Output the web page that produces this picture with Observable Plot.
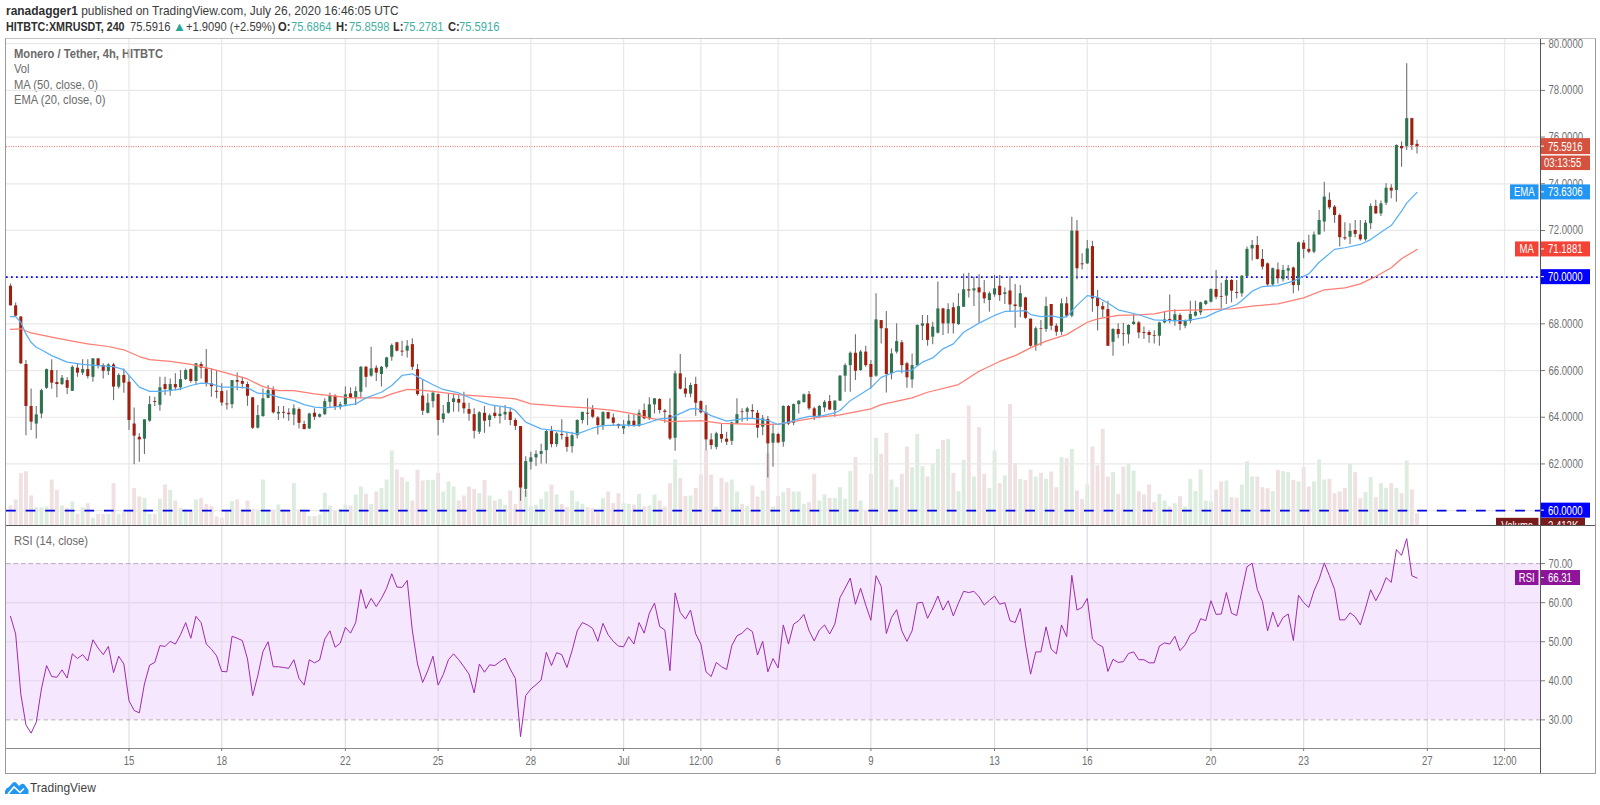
<!DOCTYPE html>
<html><head><meta charset="utf-8">
<script src="https://cdn.jsdelivr.net/npm/d3@7"></script>
<script src="https://cdn.jsdelivr.net/npm/@observablehq/plot@0.6"></script>
<style>
html,body{margin:0;padding:0;background:#fff;width:1600px;height:805px;overflow:hidden}
body{font-family:"Liberation Sans",sans-serif;color:#4a4a4a}
#stage{position:relative;width:1600px;height:805px;overflow:hidden}
#stage svg.plot-layer{position:absolute;left:0;background:transparent;overflow:hidden}
#frame{position:absolute;left:5px;top:38px;width:1589px;height:734px;border:1.5px solid #9a9a9a;border-top-color:#c2c2c2;box-sizing:content-box}
#axisline{position:absolute;left:1539.5px;top:39px;width:1px;height:734px;background:#555}
#panesep{position:absolute;left:6px;top:525px;width:1589px;height:1px;background:#555}
.t{position:absolute;white-space:nowrap;transform-origin:0 50%;line-height:14px}
.h{font-size:13px;color:#3c3c3c;transform:scaleX(.92)}
.h2{font-size:13px;color:#3c3c3c;top:20px;transform:scaleX(.86)}
.h b,.h2 b{color:#2f2f2f}
.tv{color:#3fb0a2}
.lg{font-size:12.5px;color:#6a6a6a;transform:scaleX(.895)}
</style></head><body><div id="stage">
<div id="frame"></div>
<div class="t h" style="left:6px;top:4px"><b>ranadagger1</b> published on TradingView.com, July 26, 2020 16:46:05 UTC</div>
<div class="t h2" style="left:6px;transform:scaleX(.825)"><b>HITBTC:XMRUSDT, 240</b></div>
<div class="t h2" style="left:130px">75.5916</div>
<div class="t h2" style="left:173px;color:#26a69a;transform:none;font-size:13px">▲</div>
<div class="t h2" style="left:186px">+1.9090 (+2.59%)</div>
<div class="t h2" style="left:278px"><b>O:</b></div><div class="t h2 tv" style="left:291px">75.6864</div>
<div class="t h2" style="left:336px"><b>H:</b></div><div class="t h2 tv" style="left:348.5px">75.8598</div>
<div class="t h2" style="left:393px"><b>L:</b></div><div class="t h2 tv" style="left:403px">75.2781</div>
<div class="t h2" style="left:448px"><b>C:</b></div><div class="t h2 tv" style="left:458.5px">75.5916</div>
<div class="t lg" style="left:13.5px;top:47px;font-weight:bold">Monero / Tether, 4h, HITBTC</div>
<div class="t lg" style="left:13.5px;top:62px">Vol</div>
<div class="t lg" style="left:13.5px;top:77.5px">MA (50, close, 0)</div>
<div class="t lg" style="left:13.5px;top:93px">EMA (20, close, 0)</div>
<div class="t lg" style="left:13.5px;top:534px">RSI (14, close)</div>
<svg style="position:absolute;left:5px;top:781px" width="24" height="14" viewBox="0 0 24 14"><path d="M0 13 L0 10 Q1 7 4 6 L8 1.5 Q9.5 0.5 11 1.5 L14 5 L16.5 3 Q18 2.2 19.5 3.5 L23.5 9 L23.5 13 Z" fill="#2196f3"/><path d="M3 13 L9 6 L15 11.5 L19 7.5" fill="none" stroke="#fff" stroke-width="1.6"/></svg>
<div class="t" style="left:30px;top:781px;font-size:13px;color:#3f3f3f;transform:scaleX(.92)">TradingView</div>
</div>
<script>
const startUTC = Date.UTC(2020, 5, 11, 4);
const barMs = 4 * 3600e3;
const open = [
69.61,68.77,68.29,66.26,64.46,63.71,64.14,65.24,66.0,65.49,
65.4,65.57,65.11,66.1,65.89,66.04,65.71,66.5,66.21,65.96,
66.24,65.29,65.79,65.5,63.71,63.14,63.06,63.83,64.67,64.51,
65.4,65.14,65.4,65.26,65.61,66.04,65.53,66.26,66.07,65.43,
65.11,65.1,64.57,64.54,65.57,65.53,65.4,64.83,63.53,64.03,
64.81,65.17,64.14,64.21,64.17,64.09,64.33,63.69,63.5,64.17,
64.0,64.11,64.64,64.9,64.41,64.53,65.0,64.81,65.07,66.14,
65.76,66.1,65.83,66.14,66.57,67.19,66.83,66.83,67.11,66.04,
64.91,64.17,64.67,64.97,63.9,64.17,64.63,64.76,64.6,64.33,
64.11,63.36,64.17,63.86,64.17,64.03,64.1,64.21,63.86,63.6,
60.91,62.07,62.26,62.41,62.57,63.39,62.83,63.26,63.14,62.74,
63.21,63.86,64.17,64.31,63.97,63.61,64.2,63.97,63.69,63.5,
63.66,63.83,63.61,64.29,63.93,64.53,64.76,64.26,64.07,63.1,
65.86,65.21,64.99,65.4,64.67,64.19,63.03,62.71,63.26,63.06,
62.97,63.71,64.23,64.21,64.29,64.17,63.57,63.9,62.89,63.26,
62.93,64.46,63.74,64.54,64.63,64.97,64.36,64.04,64.4,64.67,
64.29,64.69,65.76,66.21,66.74,66.0,66.79,66.26,65.76,68.14,
67.79,65.86,66.79,67.19,66.29,65.6,66.21,67.9,68.0,67.43,
67.6,68.64,68.0,68.69,67.97,68.71,69.46,69.41,69.54,69.33,
69.0,69.24,69.61,69.26,69.41,68.81,68.71,69.11,68.2,67.04,
67.8,67.76,68.83,67.9,67.64,68.86,68.33,71.97,70.57,70.57,
71.31,69.11,68.74,68.61,67.21,67.76,67.57,67.53,67.97,68.04,
67.63,67.63,67.5,67.47,68.04,68.19,68.09,68.36,67.9,68.11,
68.33,68.47,68.83,68.93,69.47,69.17,69.19,69.86,69.34,69.29,
70.03,71.21,71.36,70.76,70.57,69.67,70.31,69.89,70.26,70.39,
69.64,71.46,71.19,71.07,71.81,72.36,73.29,73.0,72.64,71.69,
71.71,72.0,71.81,71.6,72.29,73.03,72.71,73.17,73.81,73.71,
75.6,75.6,76.79,75.69];
const close = [
68.77,68.33,66.29,64.46,63.79,64.1,65.14,66.04,65.46,65.4,
65.67,65.24,66.14,65.89,66.04,65.74,66.5,66.19,65.97,66.24,
65.29,65.79,65.46,63.86,63.19,63.03,63.89,64.54,64.63,65.26,
65.19,65.4,65.26,65.61,66.0,65.53,66.29,66.1,65.46,65.31,
65.07,64.61,64.53,65.57,65.5,65.41,64.9,63.53,64.07,64.79,
65.14,64.19,64.21,64.17,64.11,64.36,63.74,63.47,64.14,64.0,
64.11,64.67,64.9,64.43,64.53,64.96,64.81,65.1,66.14,65.71,
66.07,65.89,66.14,66.54,67.07,66.83,66.79,67.04,66.14,64.97,
64.26,64.6,65.03,63.86,64.14,64.63,64.79,64.6,64.36,64.13,
63.4,64.19,63.83,64.06,64.03,64.13,64.21,63.86,63.61,60.97,
62.1,62.26,62.41,62.53,63.39,62.83,63.29,63.21,62.71,63.21,
63.86,64.21,64.13,64.0,63.64,64.2,63.93,63.74,63.6,63.61,
63.83,63.61,64.17,63.93,64.53,64.79,64.29,64.2,63.07,65.86,
65.2,64.99,65.36,64.6,64.19,63.03,62.79,63.29,63.06,62.93,
63.76,64.11,64.2,64.36,64.23,63.53,63.93,62.86,63.29,62.9,
64.46,63.71,64.54,64.69,64.96,64.36,64.0,64.46,64.64,64.31,
64.69,65.76,66.21,66.74,65.97,66.79,66.21,65.71,68.17,67.79,
65.83,66.71,67.24,66.21,65.69,66.21,67.93,68.0,67.29,67.86,
68.64,68.0,68.61,68.0,68.74,69.46,69.41,69.5,69.33,69.07,
69.29,69.5,69.21,69.33,68.81,68.74,69.29,68.24,67.04,67.79,
67.77,68.74,67.9,67.64,68.86,68.33,71.97,70.36,70.53,71.21,
69.07,68.74,68.6,67.04,67.76,67.54,67.54,67.93,68.07,67.61,
67.59,67.5,67.47,68.04,68.17,68.11,68.39,67.97,68.11,68.4,
68.5,68.9,68.97,69.47,69.14,69.14,69.86,69.4,69.3,70.04,
71.19,71.36,70.76,70.43,69.67,70.36,69.93,70.29,70.36,69.64,
71.47,71.19,71.07,71.81,72.43,73.43,72.97,72.64,71.69,71.64,
71.96,71.83,71.6,72.31,73.03,72.71,73.14,73.81,73.69,75.64,
75.5,76.79,75.64,75.5916];
const high = [
69.71,68.89,68.31,66.43,65.21,64.46,65.2,66.07,66.46,66.0,
65.79,65.7,66.21,66.26,66.46,66.46,66.5,66.5,66.29,66.29,
66.31,65.86,66.07,65.79,64.4,63.29,63.89,64.89,64.86,65.71,
65.71,65.64,65.86,66.0,66.07,66.07,66.29,66.36,66.9,66.07,
66.0,65.43,65.14,65.57,65.89,65.71,65.5,64.86,64.5,65.21,
65.36,65.29,64.46,64.46,64.36,64.54,64.4,63.83,64.17,64.36,
64.14,64.79,65.03,64.96,64.64,65.29,65.26,65.29,66.17,66.17,
67.0,66.21,66.17,66.57,67.14,67.21,67.26,67.29,67.36,66.26,
65.57,65.0,65.11,65.0,64.5,65.0,65.0,64.97,65.07,64.6,
64.36,64.24,64.46,64.14,64.5,64.43,64.5,64.4,63.93,63.6,
62.31,62.5,62.57,62.84,63.43,63.6,63.36,63.89,63.36,63.36,
63.89,64.21,64.79,64.5,64.03,64.24,64.21,64.14,63.71,63.86,
64.11,64.11,64.31,64.57,64.83,64.79,64.79,64.33,64.79,65.97,
66.69,65.69,65.46,65.71,64.71,64.5,63.29,63.36,63.71,63.36,
63.79,64.79,64.36,64.43,64.54,64.29,64.07,64.03,63.71,63.31,
64.49,64.5,64.57,64.71,65.0,65.1,64.43,64.5,64.71,64.93,
64.71,65.79,66.29,66.79,67.53,66.86,67.04,66.43,69.29,68.14,
68.53,66.93,68.0,67.29,66.36,66.71,67.96,68.36,68.36,68.07,
69.79,68.67,68.86,68.89,69.29,70.14,70.17,70.0,70.1,69.86,
69.36,70.07,70.07,69.54,70.03,69.69,69.64,69.14,68.21,67.86,
68.14,69.14,68.83,68.0,69.07,69.14,72.57,72.43,71.0,71.57,
71.54,69.43,68.93,68.97,67.79,68.0,68.03,67.96,68.39,68.1,
67.86,67.71,67.71,68.07,68.5,69.24,68.6,68.43,68.17,68.97,
68.97,68.93,69.0,69.5,70.29,69.74,69.93,69.89,69.86,70.07,
71.29,71.57,71.74,71.19,70.61,70.39,70.61,70.5,70.5,70.43,
71.5,71.57,71.79,71.93,72.86,74.07,73.6,73.07,72.71,72.33,
72.29,72.43,72.43,72.43,73.14,73.29,73.26,74.0,73.96,75.67,
75.79,79.14,76.81,75.8598];
const low = [
68.77,68.29,66.26,63.21,63.43,63.07,63.93,65.2,65.2,64.83,
65.36,64.97,65.11,65.71,65.79,65.64,65.5,66.07,65.64,65.79,
64.71,65.21,65.03,63.43,61.96,62.07,62.4,63.79,64.46,64.26,
64.93,64.9,65.14,65.14,65.57,65.46,65.36,65.64,65.29,64.86,
64.79,64.47,64.31,64.36,65.14,65.21,64.47,63.47,63.5,64.0,
64.79,64.14,63.86,63.93,63.83,63.64,63.5,63.46,63.47,63.86,
63.97,64.07,64.4,64.29,64.31,64.5,64.79,64.5,64.79,65.26,
65.71,65.53,65.29,66.07,66.4,66.79,66.6,66.54,66.0,64.9,
64.07,64.14,64.4,63.21,63.74,64.14,64.21,64.21,64.14,63.83,
63.07,63.26,63.31,63.57,63.93,63.71,63.86,63.64,63.43,60.4,
60.57,61.74,61.89,62.0,62.0,62.69,62.71,63.03,62.5,62.46,
63.07,63.71,63.64,63.93,63.24,63.43,63.89,63.64,63.5,63.26,
63.57,63.57,63.57,63.89,63.86,64.14,64.14,63.74,63.0,62.54,
65.17,64.83,64.83,64.04,64.14,62.57,62.61,62.61,62.89,62.79,
62.79,63.69,63.79,63.83,63.93,63.1,63.21,61.4,61.86,62.86,
62.71,63.64,63.64,64.14,64.6,64.29,63.86,63.93,64.21,64.29,
64.0,64.69,65.07,65.07,65.57,65.97,66.14,65.21,65.71,67.14,
65.04,65.6,66.71,65.86,65.24,65.24,66.17,67.29,67.04,67.11,
67.57,67.5,67.57,67.57,67.93,68.71,69.11,68.74,68.04,68.86,
68.5,69.14,68.97,68.83,68.5,67.81,68.26,68.19,67.0,66.83,
67.04,67.64,67.71,67.47,67.5,68.26,68.26,69.89,70.31,70.54,
68.5,67.69,68.26,67.03,66.61,67.36,67.04,67.14,67.93,67.36,
67.33,67.17,67.14,67.04,68.0,68.0,67.9,67.71,67.79,68.0,
68.29,68.36,68.79,68.89,69.03,68.64,68.83,68.9,69.07,69.14,
70.0,70.69,70.74,70.31,69.6,69.6,69.71,69.79,69.86,69.29,
69.4,70.79,71.0,71.0,71.79,71.93,72.89,72.31,71.29,71.57,
71.4,71.69,71.54,71.54,72.04,72.69,72.6,73.07,73.36,73.21,
74.71,75.43,75.43,75.2781];
const volumeK = [
3.87,5.0,9.97,10.35,5.75,3.55,3.55,3.68,8.77,6.82,
3.87,3.43,4.62,2.3,3.55,4.31,1.54,2.3,2.3,2.3,
8.08,2.3,2.61,3.05,7.2,5.57,5.31,2.3,2.3,5.13,
7.83,6.82,4.81,3.43,3.11,2.92,5.0,5.31,4.18,3.74,
1.79,1.54,2.92,4.69,5.0,3.24,4.81,3.24,3.11,8.77,
2.92,3.11,4.06,3.11,2.92,8.14,3.11,2.92,1.86,1.86,
2.17,6.26,3.87,2.92,3.24,4.06,3.87,5.94,7.45,6.07,
4.18,6.51,7.2,8.77,14.25,10.66,9.21,8.4,4.81,10.6,
8.58,8.71,8.71,10.03,6.51,8.4,7.45,4.81,5.75,7.45,
7.01,6.19,8.71,5.75,4.81,5.13,3.99,6.7,4.18,8.46,
6.7,3.74,3.99,5.13,6.51,7.83,5.94,4.18,3.55,6.7,
4.62,4.18,3.55,3.36,2.61,5.25,6.51,4.37,6.19,4.31,
4.18,4.06,6.07,3.68,3.87,5.94,4.81,3.68,8.08,12.55,
9.03,5.63,5.75,7.2,9.72,14.43,9.72,3.68,9.09,8.27,
8.77,6.51,4.18,3.74,7.64,5.57,6.7,13.74,3.68,5.63,
6.38,7.2,6.51,6.51,4.18,4.5,9.84,4.81,5.94,5.31,
5.31,7.33,5.13,10.35,12.99,4.81,2.92,9.84,16.64,13.62,
17.58,8.77,7.33,9.84,15.0,11.1,17.39,11.29,9.34,11.73,
14.56,16.26,16.45,10.03,6.57,12.48,22.74,9.34,18.65,9.84,
7.2,14.25,8.08,9.53,23.05,11.86,8.9,8.71,10.66,9.34,
10.03,8.9,10.28,7.33,12.99,12.8,14.56,6.7,5.13,7.83,
15.0,11.42,18.33,9.34,10.16,6.07,11.23,11.86,10.47,6.57,
5.94,7.83,4.5,6.07,4.81,3.68,4.31,5.63,3.68,8.9,
6.6,10.66,4.81,4.62,6.89,8.4,8.58,5.44,5.31,7.83,
12.23,9.34,9.34,7.33,7.14,6.57,10.6,10.35,10.16,8.71,
8.4,11.1,7.45,8.4,12.55,8.77,8.9,6.19,6.51,7.2,
11.73,10.16,5.25,6.38,9.21,5.44,8.08,7.2,8.08,7.2,
6.19,12.36,6.89,2.412];
const rsi = [
56.5,52.0,36.6,28.7,26.6,29.4,37.9,43.9,41.1,40.9,
42.8,40.7,46.9,45.7,46.7,45.1,50.5,48.4,46.7,48.8,
42.1,46.3,44.3,34.9,32.4,31.8,39.2,44.0,44.7,49.0,
48.8,50.1,49.4,51.8,54.9,50.9,56.5,54.9,49.4,48.1,
46.4,42.4,42.3,51.4,50.9,50.3,45.6,36.2,41.3,47.5,
50.0,43.6,43.6,43.4,43.2,45.4,40.6,38.9,45.4,44.6,
45.3,50.7,52.8,48.6,49.6,53.7,52.2,54.9,63.4,58.5,
61.1,59.0,61.1,63.7,67.4,64.0,63.9,65.7,52.8,44.3,
39.6,42.6,46.3,38.9,41.6,45.4,46.9,45.4,43.6,41.7,
36.9,44.3,42.2,44.1,43.9,44.9,45.8,43.0,40.6,25.7,
36.2,37.9,39.0,40.2,47.3,43.9,47.2,46.7,43.4,47.7,
52.8,54.9,54.3,53.4,50.1,54.7,51.8,50.1,48.9,48.7,
51.3,49.4,54.9,52.2,57.3,59.9,53.9,53.0,42.6,62.5,
57.5,55.8,58.1,52.0,49.4,42.3,41.1,44.7,43.6,42.9,
49.0,51.5,52.2,53.5,52.6,46.6,50.1,42.3,45.7,43.3,
54.3,49.4,54.5,55.4,57.0,52.8,50.2,53.0,54.3,52.0,
54.5,61.3,63.7,66.3,59.6,63.7,59.4,55.5,66.9,64.2,
52.1,56.2,58.2,52.8,50.1,52.8,59.9,60.1,56.0,58.6,
61.7,58.1,60.5,56.6,59.9,62.9,62.6,62.9,61.5,59.4,
60.6,61.7,59.6,60.0,55.4,54.9,58.5,49.4,41.7,47.4,
47.4,53.8,48.1,46.9,54.3,51.3,67.0,58.1,58.8,61.1,
50.7,49.4,48.7,42.4,45.5,44.7,44.9,47.0,47.4,45.4,
45.4,44.6,44.6,48.9,49.7,49.4,51.4,47.7,49.2,51.8,
52.6,55.9,55.4,60.5,57.0,57.1,62.6,57.3,56.7,63.0,
69.2,70.1,63.4,60.3,52.8,57.6,53.8,56.2,57.1,50.3,
61.9,60.0,58.8,63.0,66.0,70.2,66.9,63.4,55.6,55.6,
57.4,56.4,54.3,58.6,63.3,60.5,63.0,66.4,65.2,73.6,
72.1,76.4,66.9,66.31];
const emaBars = [0,1,2,3,4,5,6,8,11,14,17,20,22,23,25,27,29,31,33,35,37,39,41,44,46,48,50,52,55,57,59,61,64,67,69,72,74,76,78,79,81,82,84,87,90,93,97,98,100,103,107,110,113,115,119,121,123,126,128,132,133,134,136,139,143,145,147,149,151,153,155,157,160,161,163,167,169,172,174,175,177,179,181,183,185,188,191,193,195,197,198,200,202,204,205,207,209,211,213,215,219,222,225,228,230,232,234,238,239,241,243,246,249,250,252,254,257,259,262,264,267,268,270,271,273];
const emaValues = [68.31,68.31,68.07,67.57,67.21,67.0,66.89,66.64,66.36,66.26,66.21,66.17,66.04,65.79,65.29,65.11,65.11,65.14,65.21,65.36,65.46,65.43,65.29,65.29,65.26,65.03,65.0,64.86,64.71,64.54,64.43,64.4,64.47,64.57,64.83,65.07,65.36,65.79,65.86,65.74,65.51,65.39,65.19,65.04,64.76,64.54,64.4,64.29,63.79,63.5,63.39,63.29,63.53,63.64,63.67,63.64,63.71,63.93,63.96,64.36,64.37,64.31,64.07,63.83,63.96,63.93,63.86,63.69,63.79,63.93,64.04,64.04,64.19,64.29,64.71,65.26,65.71,65.97,65.97,66.03,66.36,66.54,66.93,67.14,67.64,68.03,68.36,68.53,68.54,68.57,68.4,68.31,68.34,68.26,68.31,68.79,69.21,69.14,68.89,68.6,68.39,68.17,68.14,68.14,68.2,68.29,68.5,68.83,69.0,69.4,69.6,69.64,69.83,69.93,70.14,70.64,71.19,71.26,71.4,71.61,72.07,72.21,72.83,73.17,73.6306];
const maBars = [0,2,4,8,12,15,19,22,25,27,31,35,39,42,46,49,52,55,59,63,66,70,72,74,77,79,82,87,92,98,101,107,112,117,121,124,128,134,138,143,147,149,153,157,161,167,169,175,178,184,188,192,195,198,201,205,209,211,215,219,222,225,231,237,241,246,251,255,259,262,265,268,270,273];
const maValues = [67.76,67.79,67.61,67.43,67.26,67.14,67.03,66.89,66.6,66.47,66.39,66.26,66.07,65.89,65.64,65.31,65.14,65.14,65.0,64.9,64.83,64.83,64.83,65.0,65.19,65.17,65.11,64.97,64.89,64.79,64.57,64.47,64.4,64.29,64.14,63.96,63.81,63.86,63.74,63.71,63.69,63.71,63.86,64.0,64.1,64.36,64.54,64.83,65.07,65.4,65.97,66.39,66.64,66.97,67.26,67.54,68.07,68.21,68.36,68.39,68.43,68.57,68.6,68.64,68.76,68.86,69.11,69.46,69.54,69.71,70.03,70.4,70.79,71.1881];
const priceGrid = [60,62,64,66,68,70,72,74,76,78,80];
const priceLabels = [62,64,66,68,72,74,76,78,80];
const rsiTicks = [30,40,50,60,70];
const timeTickDates = ["2020-06-15","2020-06-18","2020-06-22","2020-06-25","2020-06-28","2020-07-01","2020-07-03T12:00Z","2020-07-06","2020-07-09","2020-07-13","2020-07-16","2020-07-20","2020-07-23","2020-07-27","2020-07-29T12:00Z"];
const timeTickLabels = ["15","18","22","25","28","Jul","12:00","6","9","13","16","20","23","27","12:00"];

const timeTicks = timeTickDates.map(d => new Date(d));
const tickLabelOf = new Map(timeTicks.map((d, k) => [+d, timeTickLabels[k]]));
const t = i => new Date(startUTC + i * barMs);
const bars = open.map((o, i) => ({i, time: t(i), o, c: close[i], h: high[i], l: low[i], v: volumeK[i], r: rsi[i], up: close[i] >= o}));
const emaData = emaBars.map((b, k) => ({time: t(b), v: emaValues[k]}));
const maData = maBars.map((b, k) => ({time: t(b), v: maValues[k]}));

const FONT = '"Liberation Sans",sans-serif';
const FS = 12.5;
const xDomain = [t(-0.776), t(296.97)];
const xOpt = {type: "utc", domain: xDomain, axis: null};
const common = {width: 1600, marginLeft: 6, marginRight: 60, marginTop: 0, marginBottom: 0};

function tagMark(rows) {
  return (index, scales) => {
    const g = d3.create("svg:g").attr("font-family", FONT).attr("font-size", FS).attr("fill", "#fff").attr("text-anchor", "start");
    for (const r of rows) {
      const cy = scales.y(r.value) + (r.shift || 0);
      const h = r.h || 15;
      const top = cy - h / 2;
      g.append("rect").attr("x", 1540).attr("y", top).attr("width", r.right - 1540).attr("height", h).attr("fill", r.color);
      g.append("text").attr("x", r.textX || 1548).attr("y", cy + 4.4).attr("text-anchor", "start").text(r.text);
      if (!r.noTick) g.append("line").attr("x1", 1541).attr("x2", 1544).attr("y1", cy).attr("y2", cy).attr("stroke", "#fff");
      if (r.tag) {
        g.append("rect").attr("x", r.left).attr("y", top).attr("width", 1538.5 - r.left).attr("height", h).attr("fill", r.color);
        g.append("text").attr("x", (r.left + 1538.5) / 2).attr("text-anchor", "middle").attr("y", cy + 4.4).text(r.tag);
      }
    }
    return g.node();
  };
}

const volPlot = Plot.plot({...common, height: 487, x: xOpt,
  y: {domain: [0, 91.9], axis: null},
  marks: [
    Plot.ruleX(bars, {x: "time", y1: 0, y2: "v", strokeWidth: 3.9, stroke: d => d.up ? "#dcecdf" : "#efe0e2"})
  ]});

const pricePlot = Plot.plot({...common, marginTop: 4, height: 491, x: xOpt,
  y: {domain: [59.32, 80.18], axis: null},
  marks: [
    Plot.ruleY(priceGrid, {stroke: "#e9e9e9", strokeWidth: 1.2}),
    Plot.ruleX(timeTicks, {stroke: "#e9e9e9", strokeWidth: 1.3}),
    Plot.ruleY([70], {stroke: "#0000ff", strokeWidth: 1.6, strokeDasharray: "1.7,3.3"}),
    Plot.ruleY([60], {stroke: "#0000e0", strokeWidth: 1.6, strokeDasharray: "9.7,9.9"}),
    Plot.ruleY([75.5916], {stroke: "#e8685a", strokeWidth: 1, strokeDasharray: "1,1.4"}),
    Plot.ruleX(bars, {x: "time", y1: "l", y2: "h", stroke: "#707070", strokeWidth: 1.1}),
    Plot.ruleX(bars, {x: "time", y1: "o", y2: "c", stroke: d => d.up ? "#2f7350" : "#a01f0e", strokeWidth: 3.1}),
    Plot.line(maData, {x: "time", y: "v", stroke: "#ff7d72", strokeWidth: 1.25, curve: "linear"}),
    Plot.line(emaData, {x: "time", y: "v", stroke: "#5ab0f7", strokeWidth: 1.25, curve: "linear"}),
    Plot.axisY(priceLabels, {anchor: "right", tickSize: 4, tickPadding: 4, stroke: "#777", fill: "#707070", fontFamily: FONT, fontSize: FS, tickFormat: d => d.toFixed(4), label: null}),
    tagMark([
      {value: 75.5916, h: 16, text: "75.5916", color: "#d5523f", right: 1590},
      {value: 75.5916, shift: 16.7, h: 14.5, text: "03:13:55", textX: 1544, noTick: true, color: "#d5523f", right: 1590},
      {value: 73.6306, text: "73.6306", tag: "EMA", left: 1510, color: "#2196f3", right: 1590},
      {value: 71.1881, text: "71.1881", tag: "MA", left: 1515, color: "#f44336", right: 1590},
      {value: 70, text: "70.0000", color: "#0000ff", right: 1590},
      {value: 60, text: "60.0000", color: "#0000ff", right: 1590},
      {value: 60, shift: 15.2, text: "2.412K", tag: "Volume", left: 1496, noTick: true, color: "#7b1c1c", right: 1585}
    ])
  ]});

const rsiPlot = Plot.plot({...common, height: 248, marginBottom: 26, x: xOpt,
  y: {domain: [22.67, 79.5], axis: null},
  marks: [
    Plot.rectY([0], {x1: xDomain[0], x2: xDomain[1], y1: 30, y2: 70, fill: "#f5e7fd"}),
    Plot.ruleY(rsiTicks.slice(1, 4), {stroke: "#e4d5ec", strokeWidth: 1.1}),
    Plot.ruleX(timeTicks, {stroke: "#e2dbe7", strokeWidth: 1.2}),
    Plot.ruleY([70, 30], {stroke: "#b9a9bd", strokeWidth: 1, strokeDasharray: "4.5,3"}),
    Plot.ruleY([22.67], {stroke: "#8b8b8b", strokeWidth: 1.2}),
    Plot.line(bars, {x: "time", y: "r", stroke: "#a02ab3", strokeWidth: 1, curve: "linear"}),
    Plot.axisY(rsiTicks, {anchor: "right", tickSize: 4, tickPadding: 4, stroke: "#777", fill: "#707070", fontFamily: FONT, fontSize: FS, tickFormat: d => d.toFixed(2), label: null}),
    Plot.axisX(timeTicks, {anchor: "bottom", tickSize: 3, tickPadding: 5, stroke: "#777", fill: "#707070", fontFamily: FONT, fontSize: FS, tickFormat: d => tickLabelOf.get(+d), label: null}),
    tagMark([{value: 66.31, text: "66.31", tag: "RSI", left: 1515, color: "#8e1599", right: 1580}])
  ]});

const stage = document.getElementById("stage");
const place = (svg, top) => {
  svg.classList.add("plot-layer");
  svg.style.top = top + "px";
  svg.style.maxWidth = "none";
  stage.appendChild(svg);
};
place(volPlot, 39);
place(pricePlot, 35);
place(rsiPlot, 526);
for (const id of ["panesep", "axisline"]) {
  const d = document.createElement("div");
  d.id = id;
  stage.appendChild(d);
}
// The reference's lettering is horizontally condensed: squeeze every axis and tag label to fit.
stage.querySelectorAll("svg.plot-layer text").forEach(n => {
  const len = n.getComputedTextLength();
  if (len > 0) {
    n.setAttribute("textLength", (len * 0.765).toFixed(2));
    n.setAttribute("lengthAdjust", "spacingAndGlyphs");
  }
});
</script>
</body></html>
